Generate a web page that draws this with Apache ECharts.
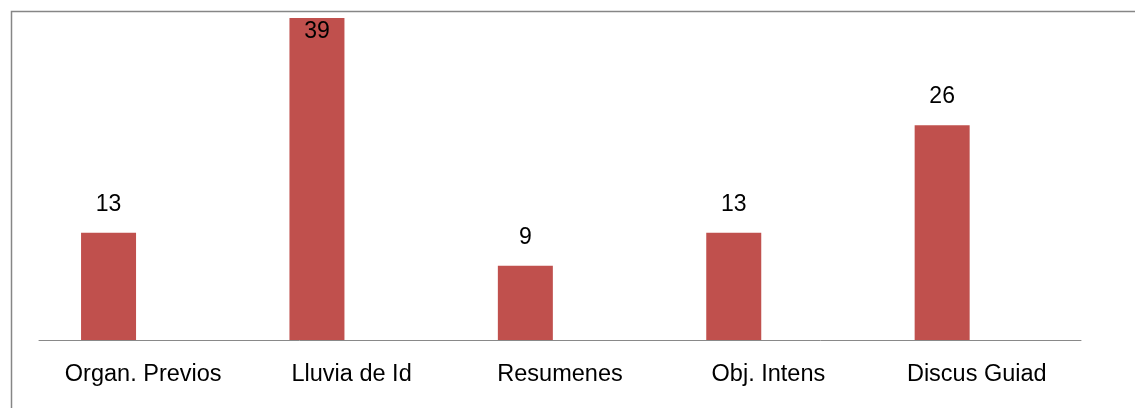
<!DOCTYPE html>
<html>
<head>
<meta charset="utf-8">
<script src="https://cdn.jsdelivr.net/npm/echarts@6/dist/echarts.min.js"></script>
<style>
  html, body { margin: 0; padding: 0; background: #fff; }
  #main { width: 1135px; height: 408px; }
</style>
</head>
<body>
<div id="main"></div>
<script>
var categories = ['Organ. Previos', 'Lluvia de Id', 'Resumenes', 'Obj. Intens', 'Discus Guiad']
var values = [13, 39, 9, 13, 26]

var chart = echarts.init(document.getElementById('main'))

chart.setOption({
  animation: false,
  graphic: [{
    type: 'rect',
    shape: { x: 11.5, y: 11.5, width: 1140, height: 420 },
    style: { fill: 'none', stroke: '#868686', lineWidth: 1.5 },
    silent: true
  }],
  grid: {
    left: 39,
    right: 54,
    top: 18,
    bottom: 68
  },
  xAxis: {
    type: 'category',
    data: categories,
    axisTick: { show: false },
    axisLine: { lineStyle: { color: '#898989', width: 1 } },
    axisLabel: {
      margin: 23,
      fontFamily: 'Liberation Sans',
      fontSize: 23.5,
      color: '#000'
    }
  },
  yAxis: {
    type: 'value',
    min: 0,
    max: 39,
    show: false,
    splitLine: { show: false }
  },
  series: [
    {
      type: 'bar',
      barWidth: 55,
      barGap: '26%',
      itemStyle: { color: '#C0504D' },
      label: {
        show: true,
        position: 'top',
        distance: 17,
        fontFamily: 'Liberation Sans',
        fontSize: 23,
        color: '#000'
      },
      data: values.map(function (v, i) {
        // the tallest bar keeps its label inside, as in the original
        if (v === 39) {
          return { value: v, label: { position: 'insideTop', distance: 2 } }
        }
        return v
      })
    },
    {
      type: 'bar',
      barWidth: 55,
      data: values.map(function () { return '-' })
    }
  ]
})
</script>
</body>
</html>
